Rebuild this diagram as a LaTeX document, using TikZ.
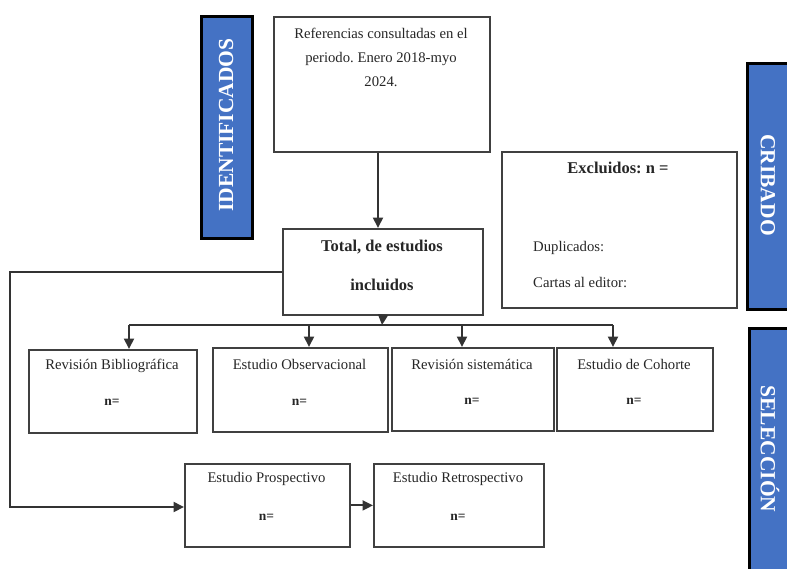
\documentclass[tikz,border=0pt]{standalone}
\usepackage{fontspec}
\setmainfont{Liberation Serif}
\usetikzlibrary{arrows.meta}
\definecolor{lblue}{HTML}{4472C4}
\frenchspacing
\begin{document}
\begin{tikzpicture}[x=1pt,y=-1pt,
  box/.style={draw=black!75, line width=1.8pt, rectangle, inner sep=0pt, anchor=north west},
  band/.style={draw=black, line width=3pt, fill=lblue, rectangle, inner sep=0pt, anchor=north west},
  txt/.style={inner sep=0pt, text=black!85},
  reg/.style={txt, font=\fontsize{14.7}{17}\selectfont},
  ttl/.style={txt, font=\fontsize{16.5}{19}\selectfont\bfseries},
  nn/.style={txt, font=\fontsize{13.5}{15}\selectfont\bfseries},
  lab/.style={inner sep=0pt, text=white, font=\fontsize{21.5}{24}\selectfont\bfseries},
  conn/.style={draw=black!80, line width=2pt},
  arr/.style={conn, -{Triangle[length=10.5pt,width=10pt]}}]
\useasboundingbox (0,0) rectangle (787,568);
\clip (0,0) rectangle (787,568);

% side bands
\node[band, minimum width=51pt, minimum height=222pt] (idb) at (200,15) {};
\node[lab, rotate=90] (idl) at (226,125) {IDENTIFICADOS};
\node[band, minimum width=60pt, minimum height=246pt] (crb) at (746,62) {};
\node[lab, rotate=-90] (crl) at (768,185) {CRIBADO};
\node[band, minimum width=60pt, minimum height=260pt] (seb) at (748,327) {};
\node[lab, rotate=-90] (sel) at (770,449) {SELECCIÓN};

% top box
\node[box, minimum width=216pt, minimum height=135pt] (top) at (273,16) {};
\node[reg] (t1) at (381,33) {Referencias consultadas en el};
\node[reg] (t2) at (381,59) {periodo. Enero 2018-myo};
\node[reg] (t3) at (381,82) {2024.};

% total box
\node[box, minimum width=200pt, minimum height=86pt] (total) at (282,228) {};
\node[ttl] (to1) at (382,247) {Total, de estudios};
\node[ttl] (to2) at (382,285) {incluidos};

% excluded box
\node[box, minimum width=235pt, minimum height=156pt] (exc) at (501,151) {};
\node[ttl] (ex1) at (618,168) {Excluidos: n =};
\node[reg, anchor=west] (ex2) at (533,248) {Duplicados:};
\node[reg, anchor=west] (ex3) at (533,282) {Cartas al editor:};

% second row
\node[box, minimum width=168pt, minimum height=83pt] (rb) at (28,349) {};
\node[reg] (rbt) at (112,366) {Revisión Bibliográfica};
\node[nn] (rbn) at (112,402) {n=};
\node[box, minimum width=175pt, minimum height=84pt] (eo) at (212,347) {};
\node[reg] (eot) at (299.5,364) {Estudio Observacional};
\node[nn] (eon) at (299.5,402) {n=};
\node[box, minimum width=162pt, minimum height=83pt] (rs) at (391,347) {};
\node[reg] (rst) at (472,364) {Revisión sistemática};
\node[nn] (rsn) at (472,401) {n=};
\node[box, minimum width=156pt, minimum height=83pt] (ec) at (556,347) {};
\node[reg] (ect) at (634,364) {Estudio de Cohorte};
\node[nn] (ecn) at (634,401) {n=};

% bottom row
\node[box, minimum width=165pt, minimum height=83pt] (pr) at (184,463) {};
\node[reg] (prt) at (266.5,479) {Estudio Prospectivo};
\node[nn] (prn) at (266.5,517) {n=};
\node[box, minimum width=170pt, minimum height=83pt] (re) at (373,463) {};
\node[reg] (ret) at (458,479) {Estudio Retrospectivo};
\node[nn] (ren) at (458,517) {n=};

% connectors
\coordinate (ax) at (378,0);
\draw[arr] (top.south -| ax) -- (total.north -| ax);
\coordinate (bus) at (382,325);
\draw[arr] (total.south) -- (bus);
\coordinate (b1) at (129,325);
\coordinate (b2) at (309,325);
\coordinate (b3) at (462,325);
\coordinate (b4) at (613,325);
\draw[conn] (b1) -- (b4);
\draw[arr] (b1) -- (b1 |- rb.north);
\draw[arr] (b2) -- (b2 |- eo.north);
\draw[arr] (b3) -- (b3 |- rs.north);
\draw[arr] (b4) -- (b4 |- ec.north);
\coordinate (lc) at (10,0);
\coordinate (ly) at (0,507);
\draw[arr] (total.west) -- (total.west -| lc) |- (pr.west |- ly);
\draw[arr] (pr.east) -- (re.west);
\end{tikzpicture}
\end{document}
